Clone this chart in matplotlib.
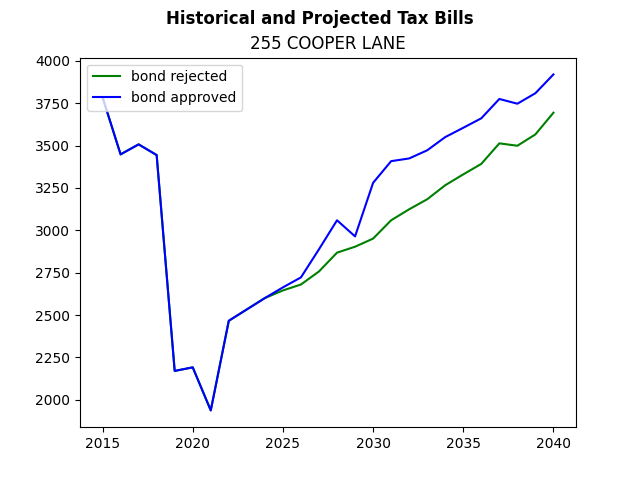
import matplotlib
matplotlib.use("Agg")
import matplotlib.pyplot as plt

years = list(range(2015, 2041))

# tax bill if the bond is rejected
bond_rejected = [3785, 3448, 3507, 3444, 2170, 2191, 1937, 2466, 2533, 2600,
                 2645, 2680, 2757, 2868, 2903, 2951, 3059, 3124, 3183, 3266,
                 3330, 3392, 3513, 3499, 3566, 3694]

# tax bill if the bond is approved
bond_approved = [3785, 3448, 3507, 3444, 2170, 2191, 1937, 2466, 2533, 2600,
                 2663, 2722, 2888, 3059, 2964, 3280, 3408, 3424, 3472, 3550,
                 3605, 3661, 3775, 3747, 3809, 3920]

fig, ax = plt.subplots(figsize=(6.4, 4.8), dpi=100)
ax.plot(years, bond_rejected, color="green", label="bond rejected")
ax.plot(years, bond_approved, color="blue", label="bond approved")

fig.suptitle("Historical and Projected Tax Bills", fontweight="bold")
ax.set_title("255 COOPER LANE")
ax.legend(loc="upper left")

fig.savefig("out.png")
